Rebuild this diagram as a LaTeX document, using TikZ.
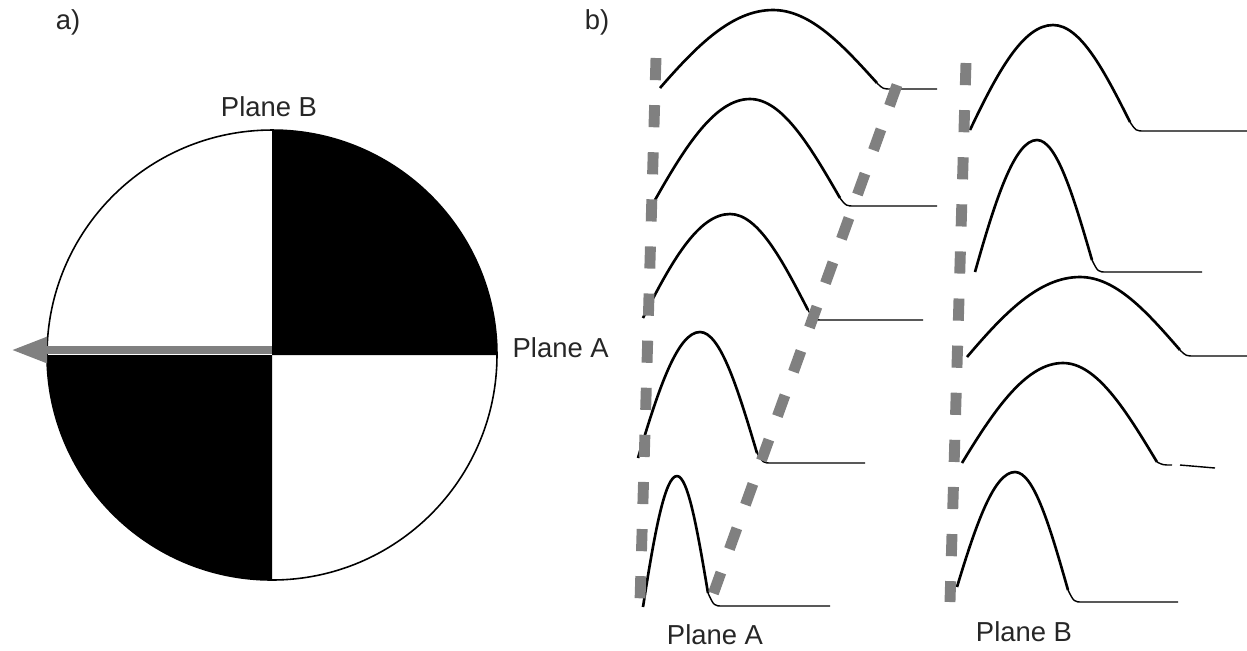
\documentclass[tikz,border=0pt]{standalone}
\usepackage{fontspec}
\setmainfont{Liberation Sans}
\usetikzlibrary{arrows.meta}

\tikzset{
  trace/.style={black, line width=0.75pt, line join=round},
  tailline/.style={black, line width=0.4pt},
  guide/.style={black!50, line width=3.1pt, dash pattern=on 6.3pt off 7.1pt},
  lbl/.style={text=black!85, font=\fontsize{7.8}{9.4}\selectfont, inner sep=0pt},
}

\begin{document}
\begin{tikzpicture}[x=0.01cm, y=-0.01cm]
\useasboundingbox (0,0) rectangle (1247,650);

% a) the beach ball
\coordinate (O) at (272,355);
\fill (O) -- ++(0:225) arc (0:-90:225) -- cycle;
\fill (O) -- ++(180:225) arc (180:90:225) -- cycle;
\draw[line width=0.45pt] (O) circle (225);
\coordinate (base) at (272,350);
\coordinate (tip) at (11,350);
\draw[black!50, line width=2.3pt, -{Triangle[length=3.6mm, width=2.4mm]}] (base) -- (tip);

\node[lbl] (la) at (68,22) {a)};
\node[lbl] (planeBtop) at (269,107) {Plane B};
\node[lbl, anchor=west] (planeAright) at (512,348) {Plane A};

% b) traces: start / peak / knee / end of tail
\foreach \sx/\sy/\px/\py/\kx/\ky/\ex/\ey in {
	660/88/773/10/877/83/937/89,
	655/200/750/99/840/198/937/206,
	643/318/730/214/808/310/923/320,
	638/458/700/332/757/453/865/463,
	643/607/677/476/708/593/830/606,
	970/130/1053/25/1130/122/1247/131,
	975/272/1037/140/1092/260/1202/272,
	967/357/1080/277/1180/350/1247/356,
	962/463/1063/363/1157/462/1172/465,
	957/587/1015/472/1068/590/1178/602} {
	\draw[trace] (\sx,\sy) .. controls ({\sx+0.33*(\px-\sx)},{\sy+0.55*(\py-\sy)}) and ({\sx+0.64*(\px-\sx)},\py) .. (\px,\py)
		.. controls ({\px+0.36*(\kx-\px)},\py) and ({\px+0.67*(\kx-\px)},{\py+0.48*(\ky-\py)}) .. (\kx,\ky);
	\draw[tailline] (\kx,\ky) .. controls ({\kx+6},\ey) .. ({\kx+15},\ey) -- (\ex,\ey);
}
\draw[tailline] (1180,465) -- (1215,468);

% dashed guides
\coordinate (a1) at (656,58);
\coordinate (a2) at (640,602);
\coordinate (a3) at (897,85);
\coordinate (a4) at (711,600);
\coordinate (b1) at (966,63);
\coordinate (b2) at (950,602);
\draw[guide] (a1) -- (a2);
\draw[guide] (a3) -- (a4);
\draw[guide] (b1) -- (b2);

\node[lbl] (lb) at (597,22) {b)};
\node[lbl] (planeA) at (715,635) {Plane A};
\node[lbl] (planeB) at (1024,632) {Plane B};

\end{tikzpicture}
\end{document}
